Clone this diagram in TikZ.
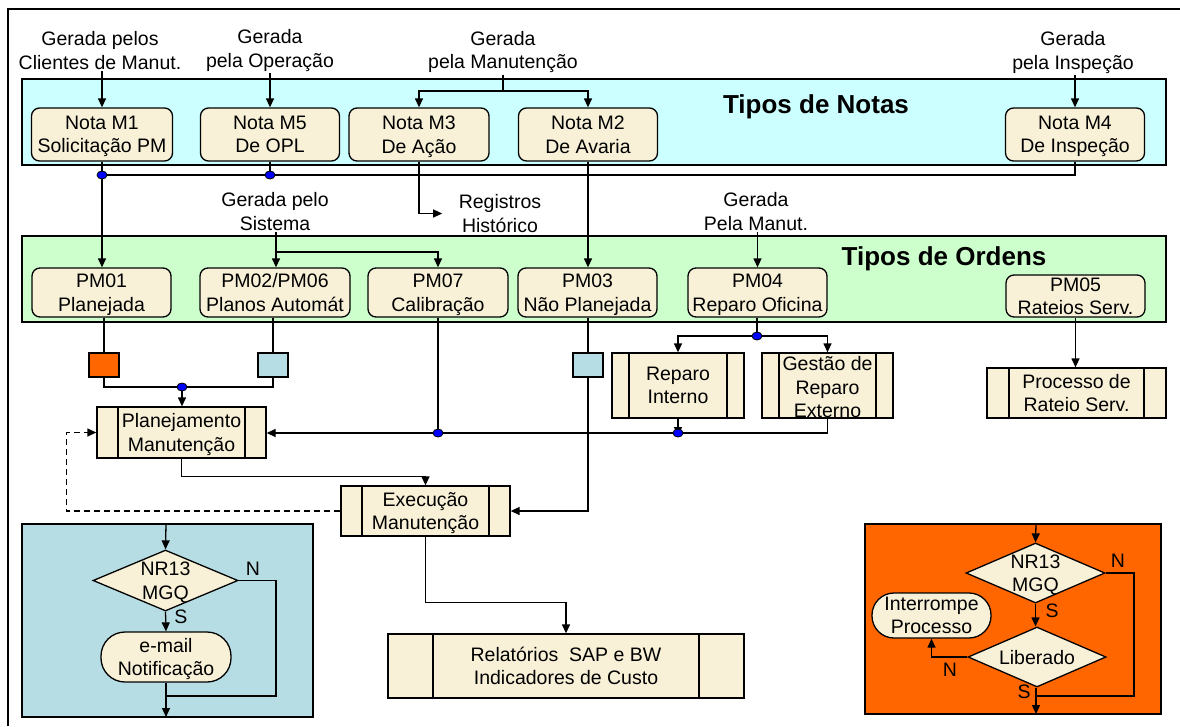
\documentclass[tikz,border=0pt]{standalone}
\usepackage{fontspec}
\setmainfont{Liberation Sans}
\usetikzlibrary{arrows.meta,shapes.geometric,calc}
\definecolor{cyanp}{HTML}{CCFFFF}
\definecolor{greenp}{HTML}{CCFFCC}
\definecolor{cream}{HTML}{F8F1D8}
\definecolor{lblue}{HTML}{B7DDE4}
\definecolor{orng}{HTML}{FF6600}
\begin{document}
\begin{tikzpicture}[x=1pt,y=-1pt,line width=1.3pt,
  base/.style={font=\fontsize{19.5}{23.5}\selectfont, align=center},
  lbl/.style={base, inner sep=1pt},
  inlbl/.style={base, inner sep=0pt, text depth=-1pt},
  title/.style={font=\fontsize{26}{30}\selectfont\bfseries, inner sep=0pt},
  rbox/.style={base, draw, fill=cream, rounded corners=8pt, inner sep=0pt, text depth=-1pt},
  procbox/.style={base, draw, fill=cream, inner sep=0pt, text depth=-1pt,
    path picture={
      \draw ([xshift=#1]path picture bounding box.north west) -- ([xshift=#1]path picture bounding box.south west);
      \draw ([xshift=-#1]path picture bounding box.north east) -- ([xshift=-#1]path picture bounding box.south east);}},
  sqbox/.style={draw, minimum width=30pt, minimum height=24pt, inner sep=0pt},
  decis/.style={diamond, draw, fill=cream, inner sep=0pt},
  term/.style={base, draw, fill=cream, inner sep=0pt, text depth=-1pt},
  dot/.style={ellipse, draw=black, line width=0.8pt, fill=blue, minimum width=10pt, minimum height=8pt, inner sep=0pt},
  arr/.style={-{Triangle[length=9pt,width=8pt]}},
]
\useasboundingbox (0,0) rectangle (1180,726);
% outer frame
\draw[line width=2.5pt] (8,726) -- (8,9) -- (1180,9);

% panels
\draw[fill=cyanp] (22,79) rectangle (1166,165);
\draw[fill=greenp] (22,236) rectangle (1166,322);
\draw[fill=lblue] (22,524) rectangle (313,717);
\draw[fill=orng] (865,524) rectangle (1161,714);

\node[title] (tn) at (816,106.5) {Tipos de Notas};
\node[title] (to) at (944,259) {Tipos de Ordens};

% top labels
\node[lbl] (g1) at (100,50.5) {Gerada pelos\\Clientes de Manut.};
\node[lbl] (g2) at (270,50.5) {Gerada\\pela Operação};
\node[lbl] (g3) at (503,52) {Gerada\\pela Manutenção};
\node[lbl] (g4) at (1073,52.5) {Gerada\\pela Inspeção};
\node[lbl] (g5) at (275,211.5) {Gerada pelo\\Sistema};
\node[lbl] (g6) at (756,211.5) {Gerada\\Pela Manut.};
\node[lbl] (reg) at (500,213.5) {Registros\\Histórico};

% notas
\node[rbox, minimum width=141pt, minimum height=53pt] (m1) at (102,134.5) {Nota M1\\Solicitação PM};
\node[rbox, minimum width=139pt, minimum height=53pt] (m5) at (270,134.5) {Nota M5\\De OPL};
\node[rbox, minimum width=140pt, minimum height=53pt] (m3) at (419,134.5) {Nota M3\\De Ação};
\node[rbox, minimum width=139pt, minimum height=53pt] (m2) at (588,134.5) {Nota M2\\De Avaria};
\node[rbox, minimum width=139pt, minimum height=53pt] (m4) at (1075,134.5) {Nota M4\\De Inspeção};

% ordens
\node[rbox, minimum width=139pt, minimum height=49pt] (pm01) at (101.5,292.5) {PM01\\Planejada};
\node[rbox, minimum width=150pt, minimum height=49pt] (pm02) at (275,292.5) {PM02/PM06\\Planos Automát};
\node[rbox, minimum width=140pt, minimum height=49pt] (pm07) at (438,292.5) {PM07\\Calibração};
\node[rbox, minimum width=139pt, minimum height=49pt] (pm03) at (587.5,292.5) {PM03\\Não Planejada};
\node[rbox, minimum width=139pt, minimum height=49pt] (pm04) at (757.5,292.5) {PM04\\Reparo Oficina};
\node[rbox, minimum width=139pt, minimum height=42pt, label={[inlbl]center:{PM05\\Rateios Serv.}}] (pm05) at (1075.5,296) {};

% squares
\node[sqbox, fill=orng] (sq1) at (104,365) {};
\node[sqbox, fill=lblue] (sq2) at (273,365) {};
\node[sqbox, fill=lblue] (sq3) at (588,365) {};

% process boxes
\node[procbox=21pt, minimum width=169pt, minimum height=51pt] (plan) at (181.5,432.5) {Planejamento\\Manutenção};
\node[procbox=21pt, minimum width=169pt, minimum height=50pt] (exec) at (425.5,511) {Execução\\Manutenção};
\node[procbox=45pt, minimum width=356pt, minimum height=64pt] (rel) at (566,666) {Relatórios\ \ SAP e BW\\Indicadores de Custo};
\node[procbox=17pt, minimum width=132pt, minimum height=65pt] (rep) at (678,385.5) {Reparo\\Interno};
\node[procbox=17pt, minimum width=131pt, minimum height=65pt, label={[inlbl,yshift=-1.5pt]center:{Gestão de\\Reparo\\Externo}}] (gest) at (827.5,385.5) {};
\node[procbox=22pt, minimum width=179pt, minimum height=50pt] (proc) at (1076.5,393) {Processo de\\Rateio Serv.};

% junction coordinates
\coordinate (d1) at (102,175);
\coordinate (d2) at (270,175);
\coordinate (busR) at (1075,175);
\coordinate (j3) at (503,91);
\coordinate (j5) at (276,252);
\coordinate (d3) at (182,387);
\coordinate (d4) at (438,433);
\coordinate (d5) at (678,433);
\coordinate (d6) at (757,336);

% top arrows
\draw[arr] (g1.south -| m1.north) -- (m1.north);
\draw[arr] (g2.south -| m5.north) -- (m5.north);
\draw (g3.south) -- (j3);
\draw[arr] (j3) -| (m3.north);
\draw[arr] (j3) -| (m2.north);
\draw[arr] (g4.south -| m4.north) -- (m4.north);

% notas bus
\draw (m1.south) -- (d1);
\draw[arr] (d1) -- (d1 |- pm01.north);
\draw (m5.south) -- (d2);
\draw (d1) -- (busR) -- (m4.south);
\draw[arr] (m3.south) |- ([xshift=-15pt]reg.west);
\draw[arr] (m2.south) -- (m2.south |- pm03.north);

% sistema / manut
\draw (g5.south -| j5) -- (j5);
\draw[arr] (j5) -- (j5 |- pm02.north);
\draw[arr] (j5) -| (pm07.north);
\draw[arr] (g6.south -| pm04.north) -- (pm04.north);

% below ordens
\draw (pm01.south -| sq1) -- (sq1.north);
\draw (sq1.south) |- (d3);
\draw (pm02.south -| sq2) -- (sq2.north);
\draw (sq2.south) |- (d3);
\draw[arr] (d3) -- (d3 |- plan.north);

\draw (pm07.south) -- (d4);
\draw[arr] (gest.south) |- (d5) -- (d4) -- (d4 -| plan.east);
\draw[arr] (rep.south) -- ([yshift=-3pt]d5);

\draw (pm04.south -| d6) -- (d6);
\draw[arr] (d6) -| (rep.north);
\draw[arr] (d6) -| (gest.north);

\draw (pm03.south -| sq3) -- (sq3.north);
\draw[arr] (sq3.south) |- (exec.east);

\draw[arr] (plan.south) -- ++(0,17.5) -| (exec.north);
\draw[arr, dashed, dash pattern=on 6pt off 4pt] (exec.west) -- ++(-274,0) |- (plan.west);
\draw[arr] (exec.south) -- ++(0,66) -| (rel.north);

\draw[arr] (pm05.south) -- (pm05.south |- proc.north);

% dots
\foreach \d in {d1,d2,d3,d4,d5,d6} \node[dot] at (\d) {};

% left flowchart
\node[decis, minimum width=145pt, minimum height=61pt, label={[inlbl]center:{NR13\\MGQ}}] (dia1) at (165.5,580.5) {};
\node[term, rounded corners=24pt, minimum width=130pt, minimum height=50pt] (email) at (166,657) {e-mail\\Notificação};
\coordinate (lp) at (166,524);
\coordinate (lr) at (276,696);
\coordinate (lj) at (166,696);
\coordinate (lb) at (166,717);
\draw[arr] (lp) -- (dia1.north);
\draw[arr] (dia1.south) -- (email.north);
\draw (dia1.east) -| (lr) -- (lj);
\draw[arr] (email.south) -- (lb);
\node[lbl] (ln) at (253,569) {N};
\node[lbl] (ls) at (181,617) {S};

% right flowchart
\node[decis, minimum width=139pt, minimum height=60pt, label={[inlbl]center:{NR13\\MGQ}}] (dia2) at (1035.5,573) {};
\node[decis, minimum width=138pt, minimum height=60pt, label={[inlbl]center:{Liberado}}] (dia3) at (1037,657) {};
\node[term, rounded corners=22pt, minimum width=119pt, minimum height=45pt, label={[inlbl]center:{Interrompe\\Processo}}] (intr) at (931.5,615.5) {};
\coordinate (rp) at (1036,524);
\coordinate (rr) at (1134,696);
\coordinate (rj) at (1036,696);
\coordinate (rb) at (1036,714);
\draw[arr] (rp) -- (dia2.north);
\draw (dia2.east) -| (rr) -- (rj);
\draw[arr] (dia2.south) -- (dia2.south |- dia3.north);
\draw[arr] (dia3.west) -| (intr.south);
\draw[arr] (dia3.south -| rb) -- (rb);
\node[lbl] (rn1) at (1118,561) {N};
\node[lbl] (rs1) at (1052,611) {S};
\node[lbl] (rn2) at (950,670) {N};
\node[lbl] (rs2) at (1024,692) {S};
\end{tikzpicture}
\end{document}
